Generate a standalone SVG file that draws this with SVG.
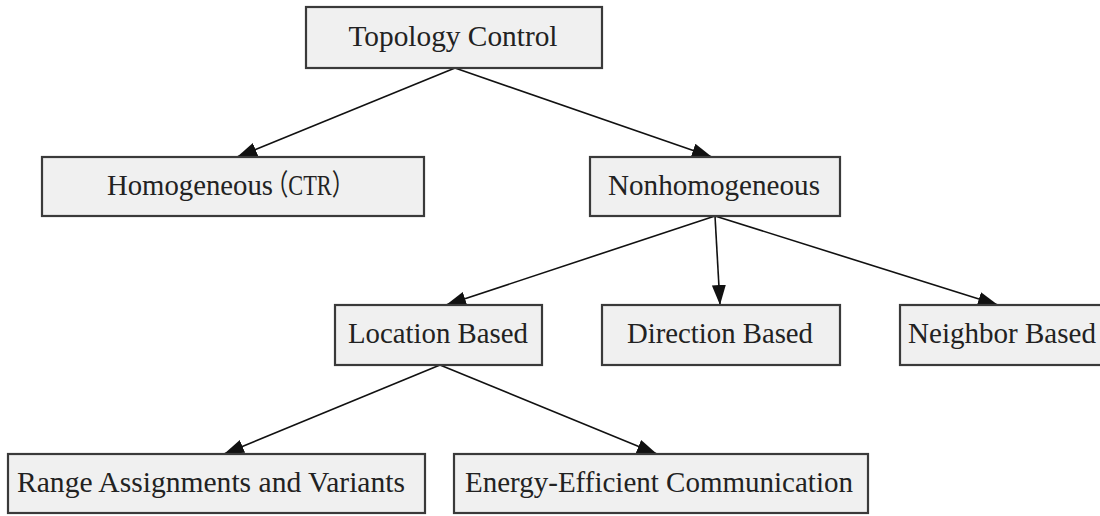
<svg xmlns="http://www.w3.org/2000/svg" width="1100" height="516" viewBox="0 0 1100 516">
  <style>
    .box { fill: #f0f0f0; stroke: #3a3a3a; stroke-width: 2.2; }
    .lbl { font-family: "Liberation Serif", "Times New Roman", "Noto Sans CJK SC", serif; font-size: 29px; fill: #222; text-anchor: middle; }
    .start { text-anchor: start; }
    .edge { stroke: #111; stroke-width: 1.6; fill: none; marker-end: url(#arrow); }
  </style>
  <defs>
    <marker id="arrow" markerUnits="userSpaceOnUse" markerWidth="22" markerHeight="16" refX="20" refY="8" orient="auto">
      <path d="M0,1 L20,8 L0,15 Z" fill="#111"/>
    </marker>
  </defs>
  <rect width="1100" height="516" fill="#ffffff"/>

  <g id="connectors">
    <line class="edge" x1="455" y1="68" x2="237" y2="157"/>
    <line class="edge" x1="455" y1="68" x2="712" y2="157"/>
    <line class="edge" x1="715" y1="216" x2="446" y2="305"/>
    <line class="edge" x1="715" y1="216" x2="720" y2="305"/>
    <line class="edge" x1="715" y1="216" x2="998" y2="305"/>
    <line class="edge" x1="440" y1="365" x2="224" y2="454"/>
    <line class="edge" x1="440" y1="365" x2="657" y2="454"/>
  </g>

  <g id="topology-control">
    <rect class="box" x="306" y="7" width="296" height="61"/>
    <text class="lbl" x="453" y="46" textLength="209" lengthAdjust="spacingAndGlyphs">Topology Control</text>
  </g>
  <g id="homogeneous">
    <rect class="box" x="42" y="157" width="382" height="59"/>
    <text class="lbl start" y="195"><tspan x="107" textLength="166" lengthAdjust="spacingAndGlyphs">Homogeneous</tspan><tspan x="266" textLength="88" lengthAdjust="spacingAndGlyphs">（CTR）</tspan></text>
  </g>
  <g id="nonhomogeneous">
    <rect class="box" x="590" y="157" width="250" height="59"/>
    <text class="lbl" x="714" y="195" textLength="212" lengthAdjust="spacingAndGlyphs">Nonhomogeneous</text>
  </g>
  <g id="location-based">
    <rect class="box" x="335" y="305" width="207" height="60"/>
    <text class="lbl" x="438" y="343" textLength="180" lengthAdjust="spacingAndGlyphs">Location Based</text>
  </g>
  <g id="direction-based">
    <rect class="box" x="602" y="305" width="238" height="60"/>
    <text class="lbl" x="720" y="343" textLength="186" lengthAdjust="spacingAndGlyphs">Direction Based</text>
  </g>
  <g id="neighbor-based">
    <rect class="box" x="900" y="305" width="210" height="60"/>
    <text class="lbl" x="1002" y="343" textLength="188" lengthAdjust="spacingAndGlyphs">Neighbor Based</text>
  </g>
  <g id="range-assignments">
    <rect class="box" x="8" y="454" width="417" height="59"/>
    <text class="lbl" x="211" y="492" textLength="388" lengthAdjust="spacingAndGlyphs">Range Assignments and Variants</text>
  </g>
  <g id="energy-efficient">
    <rect class="box" x="454" y="454" width="414" height="59"/>
    <text class="lbl" x="659" y="492" textLength="388" lengthAdjust="spacingAndGlyphs">Energy-Efficient Communication</text>
  </g>
</svg>
